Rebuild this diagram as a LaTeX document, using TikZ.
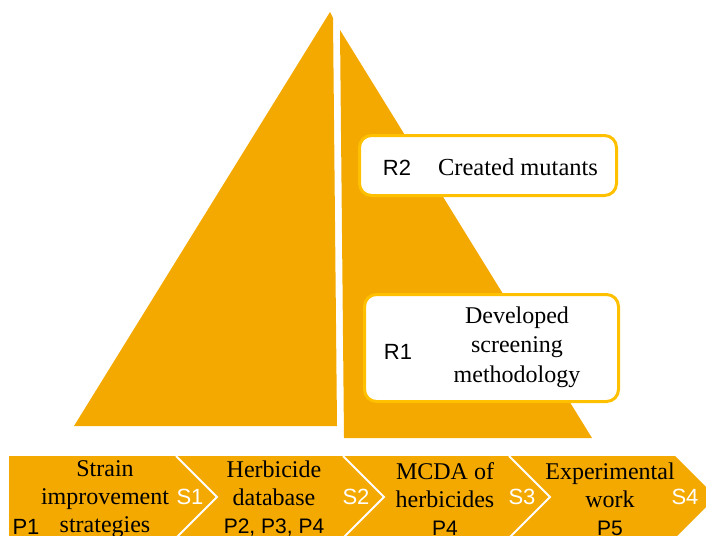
\documentclass[tikz,border=0pt]{standalone}
\usepackage{fontspec}
\setmainfont{Liberation Serif}
\setsansfont{Liberation Sans}
\definecolor{amber}{RGB}{244,169,0}
\definecolor{gold}{RGB}{255,192,0}
\begin{document}
\begin{tikzpicture}[x=1pt, y=-1pt,
  resbox/.style={draw=gold, line width=3pt, fill=white, rounded corners=12pt},
  serif/.style={font=\fontsize{24}{28}\selectfont, align=center, inner sep=0pt},
  tag/.style={font=\sffamily\fontsize{22}{24}\selectfont, inner sep=0pt},
  stage/.style={tag, text=white}]
\useasboundingbox (0,0) rectangle (706,535);
\clip (0,0) rectangle (706,535);

% the two halves of the pyramid
\fill[amber] (74,426) -- (330,12) -- (333,18) -- (337,426) -- cycle;
\fill[amber] (340,30) -- (592,438) -- (344,438) -- cycle;

% results
\node [resbox, minimum width=257, minimum height=60] (r2box) at (488,165.5) {};
\node [tag] (r2) at (397,168) {R2};
\node [serif, font=\fontsize{24.5}{28}\selectfont] (mutants) at (518,167) {Created mutants};

\node [resbox, minimum width=254, minimum height=107] (r1box) at (491.5,348) {};
\node [tag] (r1) at (398,352) {R1};
\node [serif, font=\fontsize{24}{29.5}\selectfont] (method) at (517,347) {Developed\\screening\\methodology};

% process bar
\fill[amber] (9,456) -- (675,456) -- (716,497) -- (675,538) -- (9,538) -- cycle;
\foreach \x in {176,343,509} {
  \draw[white, line width=2pt] (\x,456) -- (\x+41,497) -- (\x,538);
}

\node [serif] (strain) at (105,499) {Strain\\improvement\\strategies};
\node [serif] (database) at (274,499) {Herbicide\\database\\{\sffamily\fontsize{21}{24}\selectfont P2, P3, P4}};
\node [serif] (mcda) at (445,499) {MCDA of\\herbicides\\{\sffamily\fontsize{21}{24}\selectfont P4}};
\node [serif] (lab) at (610,499) {Experimental\\work\\{\sffamily\fontsize{21}{24}\selectfont P5}};

\node [tag] (p1) at (26,527) {P1};
\node [stage] (s1) at (190,497) {S1};
\node [stage] (s2) at (356,497) {S2};
\node [stage] (s3) at (522,497) {S3};
\node [stage] (s4) at (685,497) {S4};
\end{tikzpicture}
\end{document}
